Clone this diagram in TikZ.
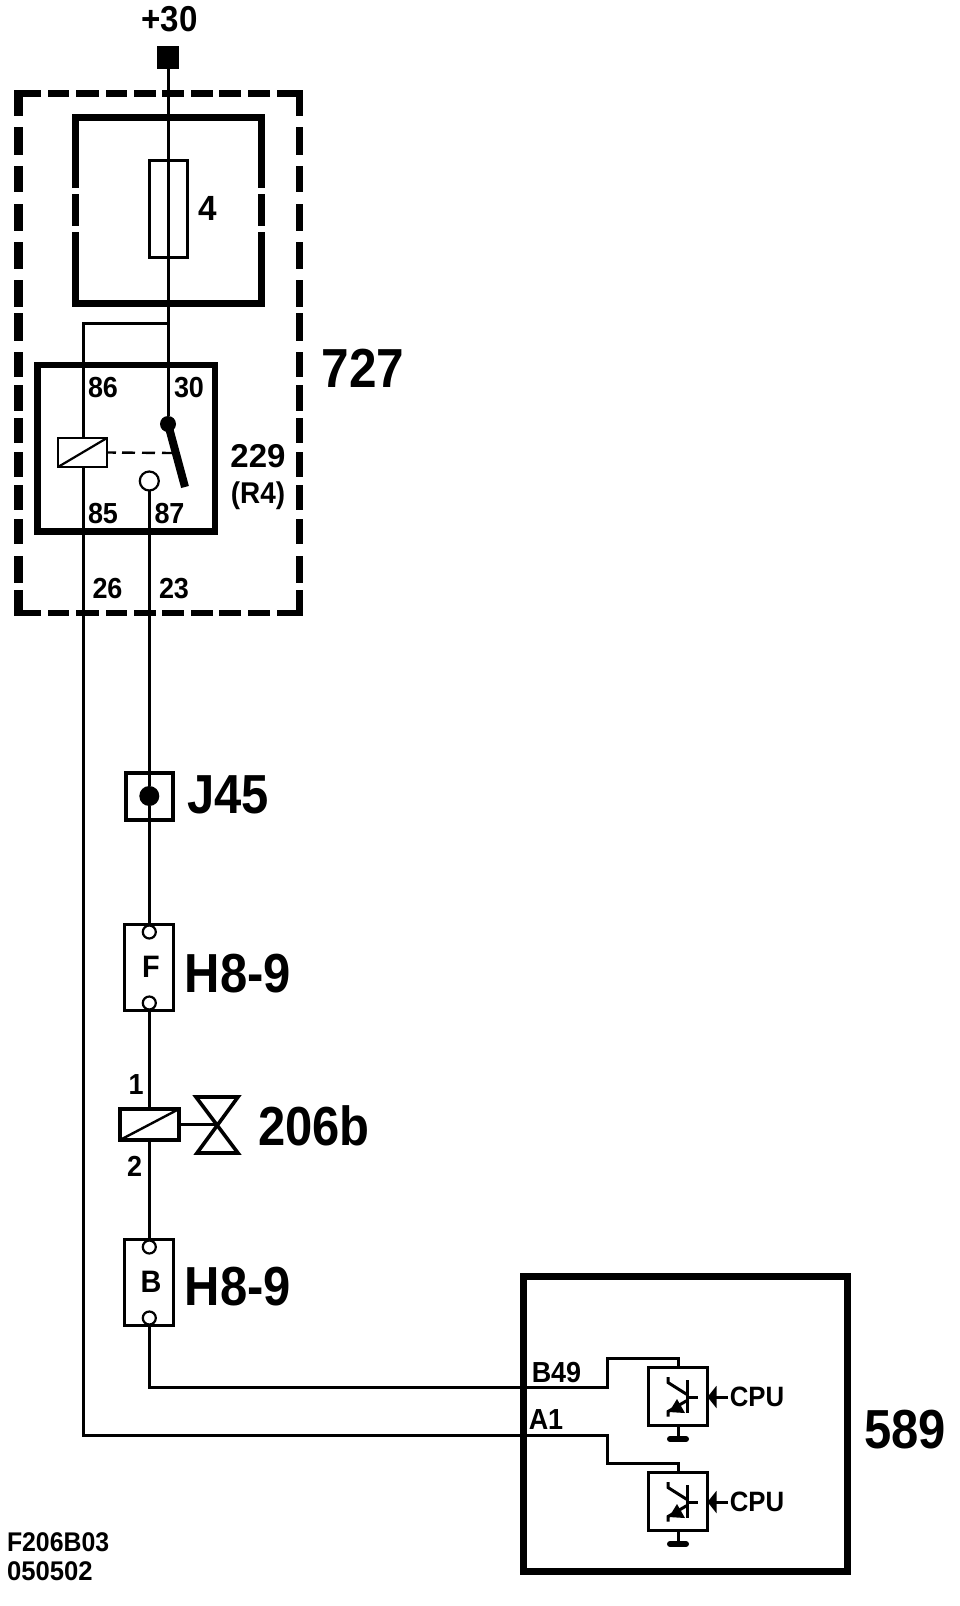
\documentclass[tikz,border=0pt]{standalone}
\usepackage{fontspec}
\setmainfont{Liberation Sans}
\usetikzlibrary{arrows.meta}
\newcommand{\fs}[1]{\fontsize{#1}{#1}\selectfont\bfseries}
\tikzset{
  wire/.style={line width=3pt},
  thin box/.style={draw,line width=2.6pt,fill=white,inner sep=0pt,outer sep=0pt},
  heavy/.style={line width=7pt},
  txt/.style={inner sep=0pt,outer sep=0pt,anchor=center},
  small label/.style={txt,font=\fs{29},xscale=.93},
  big label/.style={txt,font=\fs{55},xscale=.89},
  open dot/.style={circle,draw,fill=white,inner sep=0pt,outer sep=0pt},
  trans/.pic={
    \draw[line width=3pt] (9,-16.5) -- (9,16.5);
    \draw[line width=3pt] (9,0.5) -- (20,0.5);
    \draw[line width=3pt] (-10,-19.5) -- (-10,-14) -- (9,-2);
    \draw[line width=3pt] (9,4) -- (-3,11) -- (-10,15) -- (-10,20);
    \fill (-1,2.5) -- (7,16.5) -- (-9,15.5) -- cycle;
  },
}
\begin{document}
\begin{tikzpicture}[x=1pt,y=-1pt]
\useasboundingbox (0,0) rectangle (960,1606);

% ---- dashed enclosure 727
\foreach \a/\b in {14/41,48/69,76/99,106/127,134/156,162/184,191/213,219/241,248/270,277/303}{
  \fill (\a,90) rectangle (\b,97);
  \fill (\a,610) rectangle (\b,616);
}
\foreach \a/\b in {90/116,127/155,166/192,204/231,242/269,280/307,313/341,352/377,385/411,418/443,452/477,485/510,519/544,556/583,590/616}{
  \fill (14,\a) rectangle (23,\b);
  \fill (296,\a) rectangle (303,\b);
}

% ---- fuse holder (broken sides)
\draw[heavy,miter limit=10] (75.5,188) -- (75.5,117) -- (261.5,117) -- (261.5,188);
\draw[heavy,miter limit=10] (75.5,232) -- (75.5,303) -- (261.5,303) -- (261.5,232);
\draw[heavy] (75.5,194) -- (75.5,226);
\draw[heavy] (261.5,194) -- (261.5,226);

% ---- relay and symbols
\node[draw,line width=6.5pt,minimum width=177.5pt,minimum height=166.5pt,inner sep=0pt,outer sep=0pt] (relay) at (126.25,448.25) {};
\node[thin box,minimum width=38pt,minimum height=97pt] (fuse) at (168.5,209) {};
\node[fill,minimum width=22pt,minimum height=23pt,inner sep=0pt,outer sep=0pt] (feed) at (168,57.5) {};
\node[thin box,line width=2.2pt,minimum width=49pt,minimum height=29pt] (coilA) at (82.5,452.5) {};
\node[circle,fill,minimum size=16pt,inner sep=0pt,outer sep=0pt] (pivot) at (168,424) {};
\coordinate (leverEnd) at (185,487);
\coordinate (leverTap) at (173,453);
\node[open dot,line width=2.2pt,minimum size=19pt] (contact) at (149.3,481) {};
\coordinate (branchT) at (168,323);
\coordinate (branchL) at (83,323);

\draw[line width=2.2pt] (coilA.south west) -- (coilA.north east);
\draw[wire] (feed) -- (pivot);
\draw[wire] (branchT) -- (branchL) -- (branchL |- coilA.north);
\draw[line width=8pt] (pivot.center) -- (leverEnd);
\draw[line width=2.4pt,dash pattern=on 9pt off 6pt on 13pt off 7pt on 13pt off 7pt on 10pt off 20pt] (coilA.east) -- (leverTap);

% ---- J45
\node[draw,line width=3.6pt,fill=white,minimum size=47pt,inner sep=0pt,outer sep=0pt] (jbox) at (149.5,796.5) {};
\node[circle,fill,minimum size=20pt,inner sep=0pt,outer sep=0pt] (jdot) at (149.3,796) {};

% ---- H8-9 F
\node[thin box,minimum width=49pt,minimum height=86pt] (fbox) at (149,967.5) {};
\node[open dot,line width=2.2pt,minimum size=13pt] (ftop) at (149.3,932) {};
\node[open dot,line width=2.2pt,minimum size=13pt] (fbot) at (149.3,1003) {};

% ---- 206b coil and valve
\node[draw,line width=4.5pt,fill=white,minimum width=59pt,minimum height=31pt,inner sep=0pt,outer sep=0pt] (coilB) at (149.5,1124.5) {};
\draw[line width=2.4pt] (coilB.south west) -- (coilB.north east);
\coordinate (valve) at (217.5,1124.5);
\draw[line width=3.6pt,line join=miter] (196,1097) -- (238,1097) -- (197,1153) -- (238,1153) -- cycle;

% ---- H8-9 B
\node[thin box,minimum width=49pt,minimum height=86pt] (bbox) at (149,1282.5) {};
\node[open dot,line width=2.2pt,minimum size=13pt] (btop) at (149.3,1247) {};
\node[open dot,line width=2.2pt,minimum size=13pt] (bbot) at (149.3,1318) {};

% ---- ECU 589
\node[draw,line width=7pt,minimum width=324pt,minimum height=295pt,inner sep=0pt,outer sep=0pt] (ecu) at (685.5,1423.5) {};
\node[draw,line width=3pt,minimum width=59pt,minimum height=58pt,inner sep=0pt,outer sep=0pt] (drvA) at (678,1396.5) {};
\node[draw,line width=3pt,minimum width=59pt,minimum height=58pt,inner sep=0pt,outer sep=0pt] (drvB) at (678,1501.5) {};
\pic at (drvA.center) {trans};
\pic at (drvB.center) {trans};

% grounds
\coordinate (gndA) at (678,1439);
\coordinate (gndB) at (678,1544);
\draw[wire] (drvA.south) -- (gndA);
\draw[wire] (drvB.south) -- (gndB);
\draw[line width=6pt,line cap=round] (670,1439) -- (686,1439);
\draw[line width=6pt,line cap=round] (670,1544) -- (686,1544);

% CPU arrows
\coordinate (cpuA) at (728,1397);
\coordinate (cpuB) at (728,1502);
\draw[wire,-{Triangle[length=9pt,width=22pt]}] (cpuA) -- (drvA.east |- cpuA);
\draw[wire,-{Triangle[length=9pt,width=22pt]}] (cpuB) -- (drvB.east |- cpuB);

% ---- wires
\coordinate (bendBa) at (149.3,1387);
\coordinate (bendBb) at (607,1387);
\coordinate (bendBc) at (607,1358);
\coordinate (bendBd) at (678,1358);
\coordinate (bendAa) at (83,1435);
\coordinate (bendAb) at (607,1435);
\coordinate (bendAc) at (607,1463);
\coordinate (bendAd) at (678,1463);
\draw[wire] (contact.south) -- (jdot);
\draw[wire] (jdot) -- (ftop.north);
\draw[wire] (fbot.south) -- (coilB.north -| fbot);
\draw[wire] (coilB.south -| fbot) -- (btop.north);
\draw[wire] (coilB.east) -- (valve);
\draw[wire] (coilA.south -| bendAa) -- (bendAa) -- (bendAb) -- (bendAc) -- (bendAd) -- (drvB.north);
\draw[wire] (bbot.south) -- (bendBa) -- (bendBb) -- (bendBc) -- (bendBd) -- (drvA.north);

% ---- labels
\node[txt,font=\fs{36},xscale=.92] (t30) at (169.5,19.5) {+30};
\node[txt,font=\fs{35},xscale=.95] (t4) at (208,208) {4};
\node[txt,font=\fs{55},xscale=.9] (t727) at (363,368) {727};
\node[small label] (t86) at (103,388) {86};
\node[small label] (t30b) at (189,388) {30};
\node[small label] (t85) at (103,514) {85};
\node[small label] (t87) at (169.5,514) {87};
\node[txt,font=\fs{33}] (t229) at (258,456) {229};
\node[txt,font=\fs{30},xscale=.93] (tR4) at (258,496) {(R4)};
\node[small label] (t26) at (107.5,589) {26};
\node[small label] (t23) at (174,589) {23};
\node[big label] (tJ) at (228,795) {J45};
\node[txt,font=\fs{31},xscale=.93] (tF) at (151,967) {F};
\node[big label] (tH1) at (238,974) {H8-9};
\node[small label] (t1) at (136,1085) {1};
\node[small label] (t2) at (134.5,1166) {2};
\node[big label] (t206) at (314,1125.5) {206b};
\node[txt,font=\fs{31},xscale=.93] (tB) at (151,1282) {B};
\node[big label] (tH2) at (238,1287) {H8-9};
\node[small label] (tB49) at (556.5,1372) {B49};
\node[small label] (tA1) at (546,1420) {A1};
\node[txt,font=\fs{28},xscale=.92] (tC1) at (757,1397) {CPU};
\node[txt,font=\fs{28},xscale=.92] (tC2) at (757,1502) {CPU};
\node[big label] (t589) at (905,1430) {589};
\node[txt,font=\fs{27},xscale=.92,anchor=west] (tF2) at (7,1542.5) {F206B03};
\node[txt,font=\fs{27},xscale=.95,anchor=west] (tD) at (7,1571.5) {050502};
\end{tikzpicture}
\end{document}
